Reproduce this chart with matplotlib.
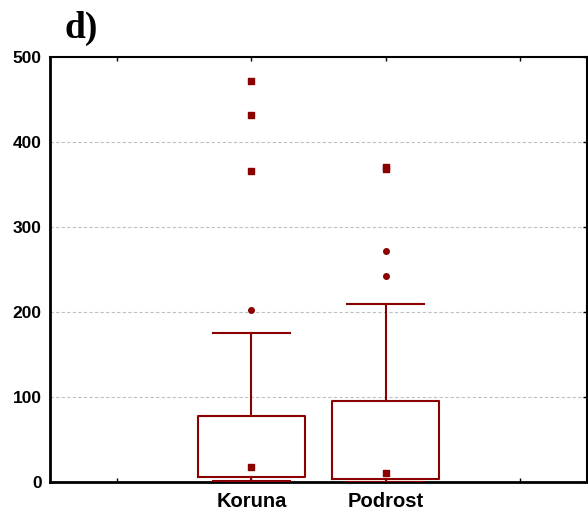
import matplotlib
matplotlib.use("Agg")
import matplotlib.pyplot as plt

categories = ["Koruna", "Podrost"]
positions = [1, 2]
medians = [18, 11]
q1 = [6, 3]
q3 = [78, 95]
whis_lo = [1, 0]
whis_hi = [175, 209]
outliers = [[202], [272, 242]]
extremes = [[472, 432, 366], [371, 368]]

color = "#8B0000"

fig = plt.figure(figsize=(5.88, 5.14), dpi=100)
ax = fig.add_axes([50/588, 1-482/514, 537/588, 425/514])

stats = []
for i in range(len(categories)):
    stats.append(dict(med=medians[i], q1=q1[i], q3=q3[i],
                      whislo=whis_lo[i], whishi=whis_hi[i], fliers=[], label=categories[i]))

ax.bxp(stats, positions=positions, widths=0.8, capwidths=0.57, showfliers=False,
       boxprops=dict(color=color, linewidth=1.5),
       whiskerprops=dict(color=color, linewidth=1.5),
       capprops=dict(color=color, linewidth=1.5),
       medianprops=dict(linestyle="none"), zorder=3)

ax.scatter(positions, medians, marker="s", s=20, color=color, zorder=4)
for p, vals in zip(positions, outliers):
    ax.scatter([p]*len(vals), vals, marker="o", s=16, color=color, zorder=4)
for p, vals in zip(positions, extremes):
    ax.scatter([p]*len(vals), vals, marker="s", s=22, color=color, zorder=4)

ax.set_xlim(-0.5, 3.5)
ax.set_ylim(0, 500)
ax.set_xticks([0, 1, 2, 3])
ax.set_xticklabels(["", "Koruna", "Podrost", ""])
ax.set_yticks([0, 100, 200, 300, 400, 500])
ax.yaxis.grid(True, linestyle=(0, (3, 2)), color="#c0c0c0", linewidth=0.8)
ax.set_axisbelow(True)
ax.tick_params(axis="both", direction="in", length=3, width=1,
               top=True, right=True, left=False)
ax.tick_params(axis="x", pad=7, labelsize=14.5)
ax.tick_params(axis="y", pad=6, labelsize=12.5)
for lab in ax.get_xticklabels() + ax.get_yticklabels():
    lab.set_fontweight("bold")
    lab.set_fontfamily("Liberation Sans")
for s in ["left", "bottom"]:
    ax.spines[s].set_linewidth(2)
for s in ["top", "right"]:
    ax.spines[s].set_linewidth(1.5)

fig.text(65/588, 1-28/514, "d)", fontsize=27, fontweight="bold",
         fontfamily="Liberation Serif", va="center", ha="left")

fig.savefig("out.png", dpi=100)
